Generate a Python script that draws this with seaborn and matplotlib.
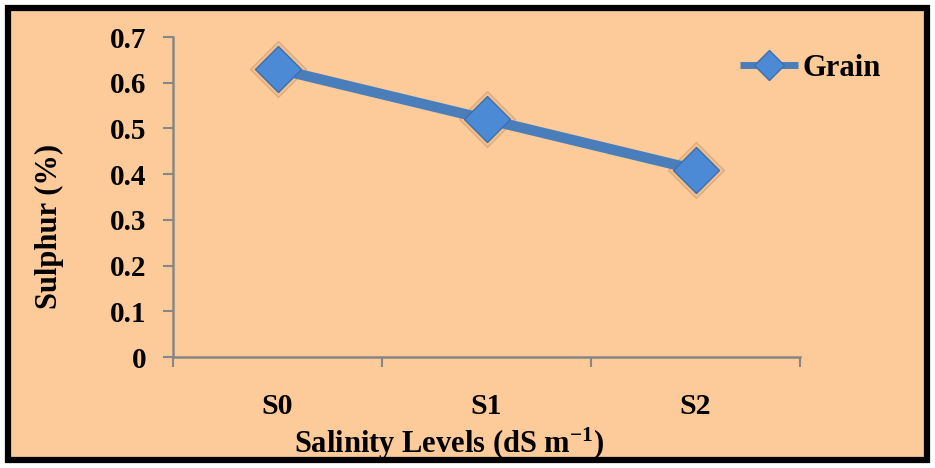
import matplotlib
matplotlib.use('Agg')
import matplotlib.pyplot as plt
import seaborn as sns
import pandas as pd
from matplotlib.patches import Rectangle
from matplotlib.ticker import FixedLocator

# data
levels = ['S0', 'S1', 'S2']
grain = [0.63, 0.52, 0.41]

bg = '#FDCB9A'
line_col = '#4A7EBB'
marker_col = '#4C8AD6'
axis_col = '#868686'

sns.set_theme(style='white')
plt.rcParams['font.family'] = ['Liberation Serif', 'DejaVu Serif']
plt.rcParams['font.weight'] = 'bold'
plt.rcParams['mathtext.fontset'] = 'custom'
plt.rcParams['mathtext.rm'] = 'Liberation Serif:bold'
plt.rcParams['mathtext.default'] = 'rm'

W, H = 935, 468
fig = plt.figure(figsize=(W/100, H/100), dpi=100)
fig.patch.set_facecolor('white')

# peach panel with black frame
frame = Rectangle((8/W, 8/H), (W-16)/W, (H-16)/H, transform=fig.transFigure,
                  facecolor=bg, edgecolor='black', linewidth=4.5, zorder=-10)
fig.patches.append(frame)

ax = fig.add_axes([173/W, 1-357/H, (800-173)/W, (357-37)/H])
ax.set_facecolor('none')

df = pd.DataFrame({'level': levels, 'grain': grain})

# soft glow behind the markers
ax.plot(df['level'], df['grain'], ls='none', marker='D', markersize=29,
        markerfacecolor='#F2BE8C', markeredgecolor='#D7A77C',
        markeredgewidth=0.8, zorder=1)

sns.lineplot(data=df, x='level', y='grain', ax=ax, color=line_col, linewidth=7.5,
             marker='D', markersize=23, markerfacecolor=marker_col,
             markeredgecolor='#3B6FAE', markeredgewidth=1, label='Grain',
             solid_capstyle='butt', zorder=2)

ax.set_ylim(0, 0.7)
ax.set_xlim(-0.5, 2.5)
ax.set_yticks([0, 0.1, 0.2, 0.3, 0.4, 0.5, 0.6, 0.7])
ax.set_yticklabels(['0', '0.1', '0.2', '0.3', '0.4', '0.5', '0.6', '0.7'])
ax.set_xticks([0, 1, 2])
ax.set_xticklabels(levels)
ax.xaxis.set_minor_locator(FixedLocator([-0.5, 0.5, 1.5, 2.5]))

for s in ['top', 'right']:
    ax.spines[s].set_visible(False)
for s in ['left', 'bottom']:
    ax.spines[s].set_color(axis_col)
    ax.spines[s].set_linewidth(1.8)

ax.tick_params(axis='y', which='major', direction='out', length=7, width=1.5,
               color=axis_col, left=True, labelsize=21, pad=12)
ax.tick_params(axis='x', which='major', length=0, labelsize=21.5, pad=26)
ax.tick_params(axis='x', which='minor', direction='out', length=7, width=1.5,
               color=axis_col, bottom=True)
for lab in ax.get_xticklabels() + ax.get_yticklabels():
    lab.set_fontweight('bold')
    lab.set_color('black')

ax.set_xlabel('Salinity Levels (dS m$^{-1}$)', fontsize=22, fontweight='bold',
              color='black')
ax.xaxis.set_label_coords((449-173)/(800-173), -(426-357)/(357-37))
ax.set_ylabel('Sulphur (%)', fontsize=22, fontweight='bold', color='black')
ax.yaxis.set_label_coords((64-173)/(800-173), 1-(226-37)/(357-37))

ax.legend_.remove()
handles, labels = ax.get_legend_handles_labels()
leg = fig.legend(handles, labels, loc='center left',
                 bbox_to_anchor=(740/W, 1-68/H), frameon=False,
                 borderpad=0, borderaxespad=0, handlelength=1.9,
                 handletextpad=0.15, markerscale=0.65, labelcolor='black',
                 prop={'family': 'Liberation Serif', 'weight': 'bold', 'size': 22})
for ln in leg.get_lines():
    ln.set_linewidth(5)

fig.savefig('out.png', dpi=100, facecolor=fig.get_facecolor())
